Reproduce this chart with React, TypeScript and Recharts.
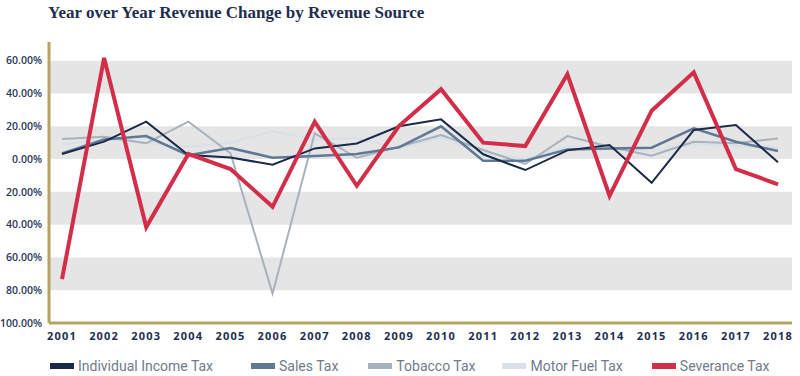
import React from "react";
import { LineChart, Line, XAxis, YAxis, ReferenceArea } from "recharts";

const years = ["2001","2002","2003","2004","2005","2006","2007","2008","2009","2010","2011","2012","2013","2014","2015","2016","2017","2018"];
const individualIncome = [3.1, 10.6, 22.8, 2.4, 1.0, -3.5, 6.5, 9.5, 20.0, 24.2, 2.9, -6.7, 5.3, 8.5, -14.5, 17.7, 20.8, -2.0];
const salesTax = [3.5, 12.0, 14.0, 2.4, 6.8, 0.8, 1.8, 3.1, 7.1, 20.0, -1.0, -1.0, 5.9, 6.5, 6.9, 18.7, 10.6, 4.9];
const tobaccoTax = [12.2, 13.6, 9.6, 22.8, 3.5, -82.0, 15.7, 0.8, 7.5, 14.6, 5.5, -3.0, 14.0, 7.5, 2.0, 10.6, 9.6, 12.6];
const motorFuelTax = [9.0, 12.0, 10.0, 7.5, 10.0, 17.0, 12.0, 12.6, 6.5, 13.0, 4.0, 0.0, 8.0, 6.0, 5.0, 9.0, 8.0, 7.0];
const severanceTax = [-73.3, 61.7, -41.5, 3.1, -6.1, -29.1, 22.8, -16.3, 20.1, 42.6, 10.0, 7.9, 51.7, -22.4, 29.5, 52.9, -6.1, -15.4];
const yTicks = [-100, -80, -60, -40, -20, 0, 20, 40, 60];
const bandRanges: [number, number][] = [[40, 60], [0, 20], [-40, -20], [-80, -60]];

const seriesNames = ["Individual Income Tax", "Sales Tax", "Tobacco Tax", "Motor Fuel Tax", "Severance Tax"];
const seriesKeys = ["individual", "sales", "tobacco", "motorFuel", "severance"];
const seriesColors = ["#1b2a4a", "#5f7893", "#a6b2be", "#d9e0e7", "#d22e4a"];

const data = years.map((y, i) => ({
  year: y,
  idx: i,
  individual: individualIncome[i],
  sales: salesTax[i],
  tobacco: tobaccoTax[i],
  motorFuel: motorFuelTax[i],
  severance: severanceTax[i],
}));

const lastIdx = years.length - 1;
const gold = "#b7a262";

export default function App() {
  return (
    <div style={{ position: "absolute", left: 0, top: 0, width: 800, height: 376, background: "#fff", overflow: "hidden" }}>
      <div
        style={{
          position: "absolute",
          left: 48,
          top: 3,
          fontFamily: "'Liberation Serif', serif",
          fontWeight: 700,
          fontSize: 17,
          color: "#1f2e4f",
          whiteSpace: "nowrap",
        }}
      >
        Year over Year Revenue Change by Revenue Source
      </div>
      <div style={{ position: "absolute", left: 0, top: 0 }}>
        <LineChart width={800} height={376} data={data} margin={{ top: 42, right: 8, left: 0, bottom: 33 }}>
          <XAxis xAxisId="band" dataKey="idx" type="number" domain={[0, lastIdx]} allowDataOverflow hide />
          {bandRanges.map((b, i) => (
            <ReferenceArea key={i} xAxisId="band" x1={0} x2={lastIdx} y1={b[0]} y2={b[1]} fill="#e5e5e5" fillOpacity={1} stroke="none" />
          ))}
          <XAxis
            dataKey="year"
            padding={{ left: 13, right: 14 }}
            axisLine={{ stroke: gold, strokeWidth: 3 }}
            tickLine={false}
            height={20}
            tickMargin={3}
            interval={0}
            tick={{ fill: "#1f2e4f", fontSize: 11, fontWeight: 700, fontFamily: "'Open Sans', sans-serif", letterSpacing: 1.2 }}
          />
          <YAxis
            type="number"
            domain={[-100, 71.4]}
            ticks={yTicks}
            width={49}
            axisLine={{ stroke: gold, strokeWidth: 3 }}
            tickLine={false}
            tickMargin={1}
            interval={0}
            tickFormatter={(v: number) => Math.abs(v).toFixed(2) + "%"}
            tick={{ fill: "#2a3756", fontSize: 10.5, fontWeight: 600, fontFamily: "'Open Sans', sans-serif" }}
          />
          <Line dataKey="motorFuel" stroke={seriesColors[3]} strokeWidth={2} dot={false} isAnimationActive={false} />
          <Line dataKey="tobacco" stroke={seriesColors[2]} strokeWidth={2} dot={false} isAnimationActive={false} />
          <Line dataKey="sales" stroke={seriesColors[1]} strokeWidth={2.5} dot={false} isAnimationActive={false} />
          <Line dataKey="individual" stroke={seriesColors[0]} strokeWidth={2} dot={false} isAnimationActive={false} />
          <Line dataKey="severance" stroke={seriesColors[4]} strokeWidth={4} dot={false} isAnimationActive={false} />
        </LineChart>
      </div>
      <div
        style={{
          position: "absolute",
          left: 50,
          top: 358,
          display: "flex",
          alignItems: "center",
          fontFamily: "Roboto, sans-serif",
          fontSize: 14,
          color: "#707b8a",
          whiteSpace: "nowrap",
        }}
      >
        {seriesKeys.map((k, i) => (
          <div key={k} style={{ display: "flex", alignItems: "center", marginRight: [38, 30, 27, 29, 0][i] }}>
            <div style={{ width: 24, height: 6, background: seriesColors[i], marginRight: 4 }} />
            <span>{seriesNames[i]}</span>
          </div>
        ))}
      </div>
    </div>
  );
}
